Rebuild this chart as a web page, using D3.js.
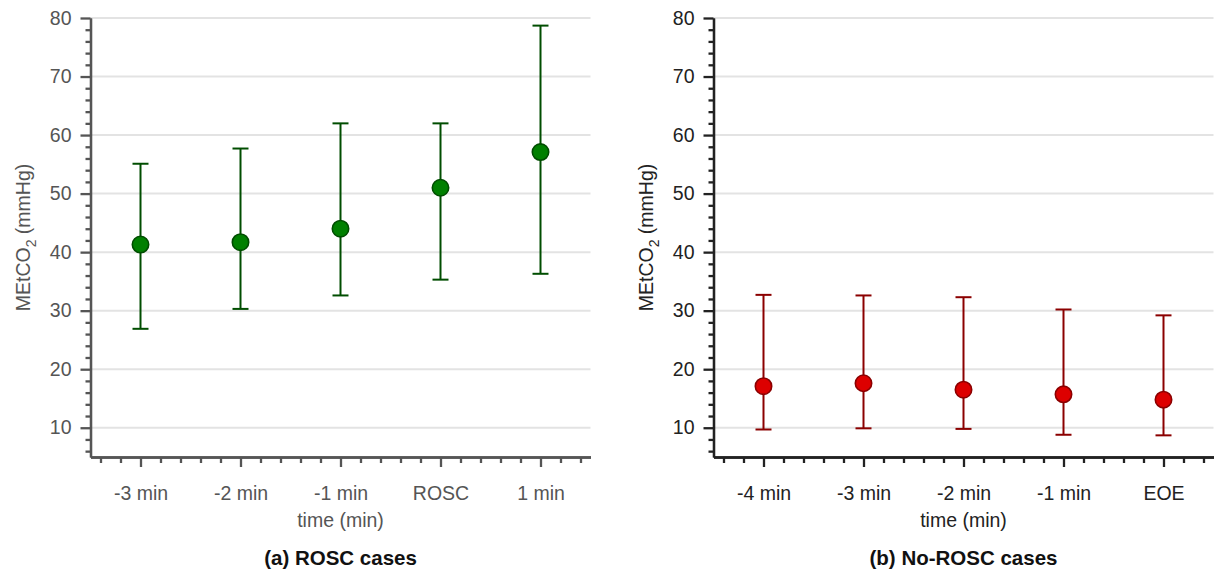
<!DOCTYPE html>
<html>
<head>
<meta charset="utf-8">
<script src="https://cdn.jsdelivr.net/npm/d3@7"></script>
<style>
  body { margin: 0; background: #fff; }
  svg text { font-family: "Liberation Sans", Arial, sans-serif; }
</style>
</head>
<body>
<div id="chart"></div>
<script>
// ---------------- Data ----------------
var roscCats = ["-3 min", "-2 min", "-1 min", "ROSC", "1 min"];
var roscMean = [41.3, 41.7, 44.0, 51.0, 57.1];
var roscLow  = [26.9, 30.3, 32.6, 35.3, 36.3];
var roscHigh = [55.1, 57.7, 62.0, 62.0, 78.7];

var noRoscCats = ["-4 min", "-3 min", "-2 min", "-1 min", "EOE"];
var noRoscMean = [17.1, 17.6, 16.5, 15.7, 14.8];
var noRoscLow  = [9.7, 9.9, 9.8, 8.8, 8.7];
var noRoscHigh = [32.7, 32.6, 32.3, 30.2, 29.2];

var yMajor = [10, 20, 30, 40, 50, 60, 70, 80];
var yDomain = [5, 80];

// ---------------- Layout ----------------
const width = 1215;
const height = 575;

var svg = d3.select("#chart").append("svg")
    .attr("width", width)
    .attr("height", height);

var y = d3.scaleLinear().domain(yDomain).range([457, 18]);
var yMinor = d3.range(6, 81, 2).filter(d => d % 10 != 0);

function drawPanel(opt) {
    var g = svg.append("g");
    var x = d3.scaleLinear().domain([-0.5, opt.cats.length - 0.5]).range([opt.x0, opt.x0 + 500]);

    // grid
    g.selectAll("line.grid")
        .data(yMajor)
        .enter().append("line")
        .attr("x1", opt.x0).attr("x2", opt.x0 + 500)
        .attr("y1", d => y(d)).attr("y2", d => y(d))
        .attr("stroke", "#e3e3e3")
        .attr("stroke-width", 2);

    // y axis: minor then major
    var yMin = g.append("g").attr("transform", "translate(" + opt.x0 + ",0)")
        .call(d3.axisLeft(y).tickValues(yMinor).tickSize(5).tickSizeOuter(0).tickFormat(""));
    var yMaj = g.append("g").attr("transform", "translate(" + opt.x0 + ",0)")
        .call(d3.axisLeft(y).tickValues(yMajor).tickSize(10).tickSizeOuter(0).tickPadding(9));

    // x axis
    var xMinorVals = d3.range(-0.4, opt.cats.length - 0.5, 0.2).filter(d => Math.abs(d - Math.round(d)) > 0.01);
    var xMin = g.append("g").attr("transform", "translate(0,457)")
        .call(d3.axisBottom(x).tickValues(xMinorVals).tickSize(6).tickSizeOuter(0).tickFormat(""));
    var xMaj = g.append("g").attr("transform", "translate(0,457)")
        .call(d3.axisBottom(x).tickValues(d3.range(opt.cats.length)).tickSize(10)
            .tickSizeOuter(0).tickPadding(19).tickFormat(i => opt.cats[i]));

    [yMin, yMaj, xMin, xMaj].forEach(function(a) {
        a.selectAll("path, line").attr("stroke", opt.axisColor).attr("stroke-width", 2.3);
        a.selectAll("text").attr("fill", opt.textColor).style("font-size", "19.5px");
    });

    // error bars
    var idx = d3.range(opt.cats.length);
    g.selectAll("line.bar").data(idx).enter().append("line")
        .attr("x1", i => x(i)).attr("x2", i => x(i))
        .attr("y1", i => y(opt.low[i])).attr("y2", i => y(opt.high[i]))
        .attr("stroke", opt.barColor).attr("stroke-width", 2);
    [opt.low, opt.high].forEach(function(arr) {
        g.selectAll(null).data(idx).enter().append("line")
            .attr("x1", i => x(i) - 8).attr("x2", i => x(i) + 8)
            .attr("y1", i => y(arr[i])).attr("y2", i => y(arr[i]))
            .attr("stroke", opt.barColor).attr("stroke-width", 2);
    });

    // points
    g.selectAll("circle").data(idx).enter().append("circle")
        .attr("cx", i => x(i)).attr("cy", i => y(opt.mean[i]))
        .attr("r", 8.2)
        .attr("fill", opt.fill)
        .attr("stroke", opt.barColor)
        .attr("stroke-width", 1.6);

    // y label
    var yl = g.append("text")
        .attr("transform", "translate(" + (opt.x0 - 61) + "," + y(42.5) + ") rotate(-90)")
        .attr("text-anchor", "middle")
        .attr("fill", opt.textColor)
        .style("font-size", "19.5px");
    yl.append("tspan").text("MEtCO");
    yl.append("tspan").attr("dy", 6).style("font-size", "14px").text("2");
    yl.append("tspan").attr("dy", -6).text(" (mmHg)");

    // x label
    g.append("text")
        .attr("x", opt.x0 + 250).attr("y", 527)
        .attr("text-anchor", "middle")
        .attr("fill", opt.textColor)
        .style("font-size", "19.5px")
        .text("time (min)");

    // panel caption
    g.append("text")
        .attr("x", opt.x0 + 250).attr("y", 565)
        .attr("text-anchor", "middle")
        .attr("fill", "#111")
        .style("font-size", "20.5px")
        .style("font-weight", "bold")
        .text(opt.title);
}

drawPanel({
    x0: 90.5, cats: roscCats, mean: roscMean, low: roscLow, high: roscHigh,
    fill: "#008000", barColor: "#004d00", axisColor: "#555", textColor: "#555",
    title: "(a) ROSC cases"
});
drawPanel({
    x0: 713.5, cats: noRoscCats, mean: noRoscMean, low: noRoscLow, high: noRoscHigh,
    fill: "#dd0000", barColor: "#8b0000", axisColor: "#222", textColor: "#222",
    title: "(b) No-ROSC cases"
});
</script>
</body>
</html>
